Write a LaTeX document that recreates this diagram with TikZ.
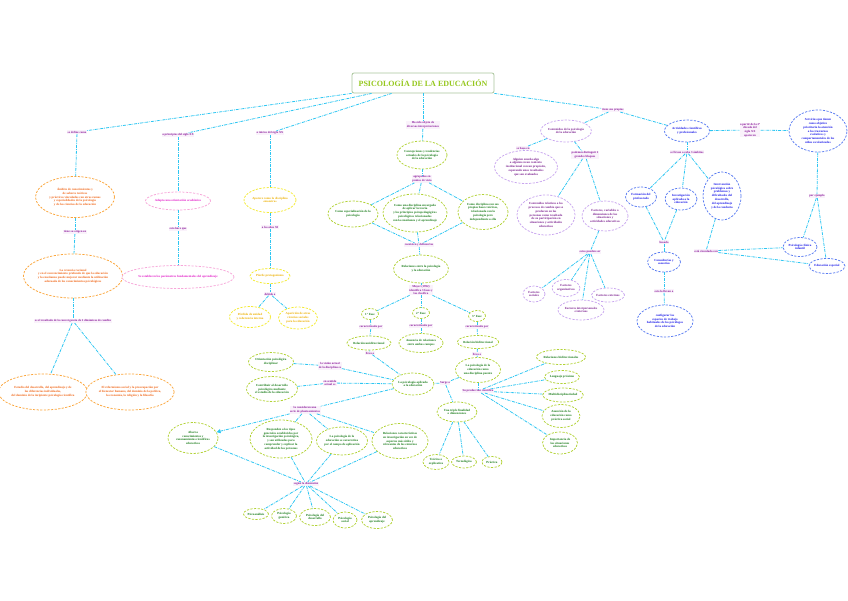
\documentclass[tikz,border=0pt]{standalone}
\usepackage{fontspec}
\setmainfont{Liberation Serif}
\usetikzlibrary{shapes.geometric,arrows.meta}
\definecolor{orgB}{HTML}{FBA53A}
\definecolor{orgT}{HTML}{F06414}
\definecolor{pnkB}{HTML}{F7A6D9}
\definecolor{pnkT}{HTML}{E21CC8}
\definecolor{yelB}{HTML}{F4EA2E}
\definecolor{yelT}{HTML}{EDB000}
\definecolor{grnB}{HTML}{B2D235}
\definecolor{grnT}{HTML}{167A16}
\definecolor{purB}{HTML}{C9A6EF}
\definecolor{purT}{HTML}{7A1E8E}
\definecolor{bluB}{HTML}{5A7CF2}
\definecolor{bluT}{HTML}{1616E8}
\definecolor{lblT}{HTML}{8A1A9A}
\definecolor{lblF}{HTML}{FAF2FB}
\definecolor{cyanC}{HTML}{2EC6F2}
\definecolor{titleT}{HTML}{96C81E}
\definecolor{titleB}{HTML}{A9C59C}
\begin{document}
\begin{tikzpicture}[x=1pt,y=-1pt,
  bub/.style={ellipse, draw, dash pattern=on 2.2pt off 1.4pt, line width=0.75pt, align=center, inner sep=0pt, fill=white, font=\fontsize{3.1}{3.8}\selectfont\bfseries},
  org/.style={bub, draw=orgB, text=orgT},
  pnk/.style={bub, draw=pnkB, text=pnkT},
  yel/.style={bub, draw=yelB, text=yelT},
  grn/.style={bub, draw=grnB, text=grnT},
  pur/.style={bub, draw=purB, text=purT},
  blu/.style={bub, draw=bluB, text=bluT},
  lbl/.style={font=\fontsize{3.0}{3.6}\selectfont\bfseries, text=lblT, fill=lblF, inner sep=0.5pt, align=center},
  con/.style={draw=cyanC, line width=0.8pt, dash pattern=on 3pt off 1pt on 0.7pt off 1pt},
  ttl/.style={draw=titleB, rounded corners=2pt, line width=0.8pt, fill=white, text=titleT, font=\fontsize{8}{9}\selectfont\bfseries, minimum width=142, minimum height=20}
]
\useasboundingbox (0,0) rectangle (848,600);

% title
\node[ttl] (T) at (423,83) {PSICOLOGÍA DE LA EDUCACIÓN};

% ---------- labels ----------
\node[lbl] (l1) at (77,132) {se define como};
\node[lbl] (l2) at (178,135) {a principios del siglo XX};
\node[lbl] (l3) at (270,133) {a inicios del siglo XX};
\node[lbl] (l4) at (423,125) {Ha sido objeto de\\diversas interpretaciones};
\node[lbl] (l5) at (613,110) {tiene sus propios};
\node[lbl] (l6) at (75,232) {tiene su origen en};
\node[lbl] (l7) at (73,321) {es el resultado de la convergencia de 2 dinámicas de cambio};
\node[lbl] (l8) at (178,229) {esto hace que};
\node[lbl] (l9) at (270,227) {a los años 50};
\node[lbl] (l10) at (270,294) {debido a};
\node[lbl] (l11) at (422,179) {agrupadas en\\puntos de vista};
\node[lbl] (l12) at (419,245) {coexisten y definen las};
\node[lbl] (l13) at (421,290) {Mayer (1992)\\identifica 3 fases y\\las clasifica};
\node[lbl] (l14) at (371,327) {caracterizada por};
\node[lbl] (l15) at (421,326) {caracterizada por};
\node[lbl] (l16) at (477,327) {caracterizada por};
\node[lbl] (l17) at (370,353) {lleva a};
\node[lbl] (l18) at (477,354) {lleva a};
\node[lbl] (l19) at (445,383) {Surge a};
\node[lbl] (l20) at (478,391) {Su producción científica};
\node[lbl] (l21) at (330,366) {la visión actual\\de la disciplina es};
\node[lbl] (l22) at (330,383) {en sentido\\actual es};
\node[lbl] (l23) at (305,410) {la consideran una\\serie de planteamientos};
\node[lbl] (l24) at (306,484) {según la dimensión};
\node[lbl] (l25) at (523,148) {se basa en};
\node[lbl] (l26) at (585,155) {podemos distinguir 2\\grandes bloques};
\node[lbl] (l27) at (590,252) {estos pueden ser};
\node[lbl] (l28) at (687,152) {se llevan a cabo 3 ámbitos};
\node[lbl] (l29) at (750,130) {a partir de la 2ª\\década del\\siglo XX\\aparecen};
\node[lbl] (l30) at (817,196) {por ejemplo};
\node[lbl] (l31) at (664,242) {basado};
\node[lbl] (l32) at (664,291) {esto la llevan a};
\node[lbl] (l33) at (706,251) {está vinculada con};

% ---------- orange ----------
\node[org, minimum width=79, minimum height=41] (A1) at (75,197) {Ámbito de conocimientos y\\de saberes teóricos\\y prácticos vinculados con otras ramas\\y especialidades de la psicología\\y de las ciencias de la educación};
\node[org, minimum width=97, minimum height=44] (A2) at (73,276) {La creencia racional\\y en el convencimiento profundo de que la educación\\y la enseñanza puede mejorar mediante la utilización\\adecuada de los conocimientos psicológicos};
\node[org, minimum width=85, minimum height=36] (A3) at (43,392) {Estudio del desarrollo, del aprendizaje y de\\las diferencias individuales,\\del dominio de la incipiente psicología científica};
\node[org, minimum width=85, minimum height=36] (A4) at (130,392) {El reformismo social y la preocupación por\\el bienestar humano, del dominio de la política,\\la economía, la religión y la filosofía};

% ---------- pink ----------
\node[pnk, minimum width=61, minimum height=18] (P1) at (178,201) {Adopta una orientación académica};
\node[pnk, minimum width=99, minimum height=23] (P2) at (178,277) {Se establecen los parámetros fundamentales del aprendizaje};

% ---------- yellow ----------
\node[yel, minimum width=52, minimum height=25] (Y1) at (270,200) {Aparece como la disciplina\\«maestra»};
\node[yel, minimum width=40, minimum height=15] (Y2) at (270,276) {Pierde protagonismo};
\node[yel, minimum width=41, minimum height=21] (Y3) at (250,317) {Pérdida de unidad\\y coherencia interna};
\node[yel, minimum width=39, minimum height=22] (Y4) at (298,318) {Aparición de otras\\ciencias sociales\\para la educación};

% ---------- green ----------
\node[grn, minimum width=50, minimum height=28] (G1) at (422,155) {Concepciones y tendencias\\actuales de la psicología\\de la educación};
\node[grn, minimum width=50, minimum height=26] (G2) at (353,214) {Como especialización de la\\psicología};
\node[grn, minimum width=64, minimum height=38] (G3) at (415,213) {Como una disciplina encargada\\de aplicar la teoría\\y los principios psicopedagógicos\\psicológicos relacionados\\con la enseñanza y el aprendizaje};
\node[grn, minimum width=50, minimum height=35] (G4) at (483,212) {Como disciplina con sus\\propias bases teóricas,\\relacionada con la\\psicología pero\\independiente a ella};
\node[grn, minimum width=53, minimum height=28] (G5) at (421,269) {Relaciones entre la psicología\\y la educación};
\node[grn, minimum width=17, minimum height=11] (F1) at (370,314) {1° Fase};
\node[grn, minimum width=17, minimum height=11] (F2) at (421,313) {2° Fase};
\node[grn, minimum width=17, minimum height=11] (F3) at (477,316) {3° Fase};
\node[grn, minimum width=42, minimum height=14] (R1) at (369,343) {Relación unidireccional};
\node[grn, minimum width=44, minimum height=19] (R2) at (421,343) {Ausencia de relaciones\\entre ambos campos};
\node[grn, minimum width=40, minimum height=13] (R3) at (478,342) {Relación bidireccional};
\node[grn, minimum width=40, minimum height=22] (AP) at (413,384) {La psicología aplicada\\a la educación};
\node[grn, minimum width=45, minimum height=25] (PU) at (478,370) {La psicología de la\\educación como\\una disciplina puente};
\node[grn, minimum width=40, minimum height=20] (TR) at (457,412) {Una triple finalidad\\o dimensiones};
\node[grn, minimum width=26, minimum height=15] (T1) at (436,462) {Teórica o\\explicativa};
\node[grn, minimum width=25, minimum height=12] (T2) at (464,462) {Tecnológica};
\node[grn, minimum width=20, minimum height=11] (T3) at (492,462) {Práctica};
\node[grn, minimum width=48, minimum height=15] (S1) at (561,357) {Relaciones bidireccionales};
\node[grn, minimum width=35, minimum height=13] (S2) at (562,377) {Lenguaje próximo};
\node[grn, minimum width=33, minimum height=14] (S3) at (563,395) {Multidisciplinariedad};
\node[grn, minimum width=38, minimum height=23] (S4) at (561,416) {Asunción de la\\educación como\\práctica social};
\node[grn, minimum width=35, minimum height=22] (S5) at (560,443) {Importancia de\\las situaciones\\educativas};
\node[grn, minimum width=45, minimum height=19] (O1) at (271,362) {Orientación psicológica\\disciplinar};
\node[grn, minimum width=51, minimum height=25] (O2) at (272,389) {Contribuir al desarrollo\\psicológico mediante\\el estudio de la educación};
\node[grn, minimum width=50, minimum height=31] (D1) at (193,438) {Abarca\\conocimientos y\\razonamientos científicos\\educativos};
\node[grn, minimum width=62, minimum height=38] (D2) at (281,439) {Responden a los tipos\\generales establecidos por\\la investigación psicológica,\\y son utilizados para\\comprender y explicar la\\actividad de las personas};
\node[grn, minimum width=51, minimum height=28] (D3) at (342,441) {La psicología de la\\educación se caracteriza\\por el campo de aplicación};
\node[grn, minimum width=56, minimum height=35] (D4) at (400,441) {Relaciones características\\en investigación en vez de\\aspectos más útiles y\\relevantes de los entornos\\educativos};
\node[grn, minimum width=25, minimum height=11] (E1) at (256,514) {Psicoanálisis};
\node[grn, minimum width=25, minimum height=15] (E2) at (284,516) {Psicología\\genética};
\node[grn, minimum width=31, minimum height=17] (E3) at (315,517) {Psicología del\\desarrollo};
\node[grn, minimum width=24, minimum height=16] (E4) at (345,520) {Psicología\\social};
\node[grn, minimum width=31, minimum height=17] (E5) at (377,520) {Psicología del\\aprendizaje};

% ---------- purple ----------
\node[pur, minimum width=50, minimum height=22] (C1) at (566,131) {Contenidos de la psicología\\de la educación};
\node[pur, minimum width=63, minimum height=33] (C2) at (526,167) {Alguien enseña algo\\a alguien en un contexto\\institucional con un propósito,\\esperando unos resultados\\que son evaluados};
\node[pur, minimum width=58, minimum height=40] (C3) at (546,215) {Contenidos relativos a los\\procesos de cambio que se\\producen en las\\personas como resultado\\de su participación en\\situaciones y actividades\\educativas};
\node[pur, minimum width=46, minimum height=30] (C4) at (605,216) {Factores, variables o\\dimensiones de las\\situaciones y\\actividades educativas};
\node[pur, minimum width=22, minimum height=16] (C5) at (534,294) {Factores\\sociales};
\node[pur, minimum width=28, minimum height=17] (C6) at (566,288) {Factores\\organizativos};
\node[pur, minimum width=46, minimum height=20] (C7) at (581,310) {Factores interpersonales\\e internos};
\node[pur, minimum width=33, minimum height=14] (C8) at (608,295) {Factores externos};

% ---------- blue ----------
\node[blu, minimum width=45, minimum height=22] (B1) at (687,131) {Actividades científicas\\y profesionales};
\node[blu, minimum width=31, minimum height=20] (B2) at (641,197) {Formación del\\profesorado};
\node[blu, minimum width=32, minimum height=22] (B3) at (681,199) {Investigación\\aplicada a la\\educación};
\node[blu, minimum width=38, minimum height=48] (B4) at (722,196) {Intervención\\psicológica sobre\\problemas y\\dificultades del\\desarrollo,\\del aprendizaje\\y de la conducta};
\node[blu, minimum width=58, minimum height=42] (B5) at (818,131) {Servicios que tienen\\como objetivo\\prioritario la atención\\a los trastornos\\evolutivos y\\comportamentales de los\\niños escolarizados};
\node[blu, minimum width=34, minimum height=19] (B6) at (800,247) {Psicología clínica\\infantil};
\node[blu, minimum width=36, minimum height=15] (B7) at (827,266) {Educación especial};
\node[blu, minimum width=33, minimum height=20] (B8) at (664,262) {Consultorías y\\asesorías};
\node[blu, minimum width=56, minimum height=32] (B9) at (665,321) {configurar los\\espacios de trabajo\\habituales de los psicólogos\\de la educación};

% ---------- connectors ----------
\draw[con] (T.south west) -- (l1);
\draw[con] ([xshift=20pt]T.south west) -- (l2);
\draw[con] ([xshift=40pt]T.south west) -- (l3);
\draw[con] (T.south) -- (l4);
\draw[con] (T.south east) -- (l5);
\draw[con] (l1) -- (A1);
\draw[con] (l2) -- (P1);
\draw[con] (l3) -- (Y1);
\draw[con] (l4) -- (G1);
\draw[con] (l5) -- (C1);
\draw[con] (l5) -- (B1);
\draw[con] (A1) -- (l6);
\draw[con] (l6) -- (A2);
\draw[con] (A2) -- (l7);
\draw[con] (l7) -- (A3);
\draw[con] (l7) -- (A4);
\draw[con] (P1) -- (l8);
\draw[con] (l8) -- (P2);
\draw[con] (Y1) -- (l9);
\draw[con] (l9) -- (Y2);
\draw[con] (Y2) -- (l10);
\draw[con] (l10) -- (Y3);
\draw[con] (l10) -- (Y4);
\draw[con] (G1) -- (l11);
\draw[con] (l11) -- (G2);
\draw[con] (l11) -- (G3);
\draw[con] (l11) -- (G4);
\draw[con] (G2) -- (l12);
\draw[con] (G3) -- (l12);
\draw[con] (G4) -- (l12);
\draw[con] (l12) -- (G5);
\draw[con] (G5) -- (l13);
\draw[con] (l13) -- (F1);
\draw[con] (l13) -- (F2);
\draw[con] (l13) -- (F3);
\draw[con] (F1) -- (l14);
\draw[con] (F2) -- (l15);
\draw[con] (F3) -- (l16);
\draw[con] (l14) -- (R1);
\draw[con] (l15) -- (R2);
\draw[con] (l16) -- (R3);
\draw[con] (R1) -- (l17);
\draw[con] (R3) -- (l18);
\draw[con] (l17) -- (AP);
\draw[con] (l18) -- (PU);
\draw[con] (PU) -- (l19);
\draw[con] (l19) -- (AP);
\draw[con] (l19) -- (TR);
\draw[con] (PU) -- (l20);
\foreach \s in {S1,S2,S3,S4,S5} \draw[con] (l20) -- (\s);
\foreach \s in {T1,T2,T3} \draw[con] (TR) -- (\s);
\draw[con] (O1) -- (l21);
\draw[con] (l21) -- (AP);
\draw[con] (O2) -- (l22);
\draw[con] (l22) -- (AP);
\draw[con] (AP) -- (l23);
\draw[con, -{Triangle[length=4pt,width=4pt]}] (l23) -- (D1);
\foreach \s in {D2,D3,D4} \draw[con] (l23) -- (\s);
\foreach \s in {D1,D2,D3,D4} \draw[con] (\s) -- (l24);
\foreach \s in {E1,E2,E3,E4,E5} \draw[con] (l24) -- (\s);
\draw[con] (C1) -- (l25);
\draw[con] (l25) -- (C2);
\draw[con] (C1) -- (l26);
\draw[con] (l26) -- (C3);
\draw[con] (l26) -- (C4);
\draw[con] (C4) -- (l27);
\foreach \s in {C5,C6,C7,C8} \draw[con] (l27) -- (\s);
\draw[con] (B1) -- (l28);
\foreach \s in {B2,B3,B4} \draw[con] (l28) -- (\s);
\draw[con] (B1) -- (l29);
\draw[con] (l29) -- (B5);
\draw[con] (B5) -- (l30);
\draw[con] (l30) -- (B6);
\draw[con] (l30) -- (B7);
\draw[con] (B2) -- (l31);
\draw[con] (B3) -- (l31);
\draw[con] (l31) -- (B8);
\draw[con] (B8) -- (l32);
\draw[con] (l32) -- (B9);
\draw[con] (B4) -- (l33);
\draw[con] (l33) -- (B6);
\draw[con] (l33) -- (B7);
\end{tikzpicture}
\end{document}
